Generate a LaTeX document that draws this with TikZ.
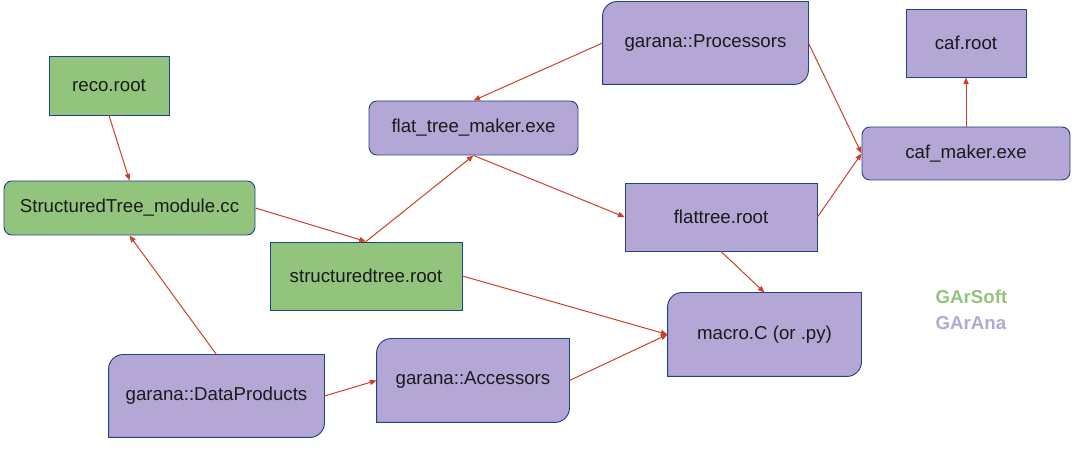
\documentclass[tikz,border=0pt]{standalone}
\usepackage{fontspec}
\setmainfont{Liberation Sans}
\usepackage{tikz}
\usetikzlibrary{arrows.meta,backgrounds}
\definecolor{GarGreen}{HTML}{93C47D}
\definecolor{GarPurple}{HTML}{B4A7D6}
\definecolor{GarEdge}{HTML}{1C4587}
\definecolor{GarArrow}{HTML}{CC4125}
\definecolor{GarText}{HTML}{1A1A1A}

% outline with the top-left and bottom-right corners rounded
\newcommand{\tabshape}[1]{%
  \draw[draw=GarEdge, fill=GarPurple, line width=0.7pt]
    (#1.north east) -- ([yshift=11pt]#1.south east)
    arc[start angle=0, end angle=-90, radius=11pt]
    -- (#1.south west) -- ([yshift=-11pt]#1.north west)
    arc[start angle=180, end angle=90, radius=11pt] -- cycle;}

\begin{document}
\begin{tikzpicture}[
  x=0.75pt, y=0.75pt,
  box/.style={draw=GarEdge, line width=0.7pt, align=center, inner sep=2pt, text=GarText, font=\fontsize{14}{16}\selectfont},
  soft/.style={box, fill=GarGreen},
  ana/.style={box, fill=GarPurple},
  anaround/.style={ana, rounded corners=6pt},
  softround/.style={soft, rounded corners=6pt},
  anatab/.style={box, draw=none},
  arrow/.style={-{Triangle[length=5pt,width=4pt]}, GarArrow, line width=0.75pt},
  legend/.style={anchor=west, font=\fontsize{14}{16}\selectfont\bfseries}
]
  \useasboundingbox (0,0) rectangle (1089,453);

  \node[anatab, minimum width=153.75pt, minimum height=61.5pt] (processors) at (705.5,410) {garana::Processors};
  \node[ana, minimum width=90pt, minimum height=51pt] (cafroot) at (966,410) {caf.root};
  \node[anaround, minimum width=156pt, minimum height=39.75pt] (cafmaker) at (966,299.5) {caf\_maker.exe};
  \node[soft, minimum width=90pt, minimum height=44.25pt] (reco) at (109,367.5) {reco.root};
  \node[anaround, minimum width=156.75pt, minimum height=40.5pt] (treemaker) at (473.5,325) {flat\_tree\_maker.exe};
  \node[softround, minimum width=188.25pt, minimum height=40.5pt] (module) at (129.5,245) {StructuredTree\_module.cc};
  \node[ana, minimum width=144pt, minimum height=51pt] (flattree) at (721,236) {flattree.root};
  \node[soft, minimum width=144pt, minimum height=51pt] (structtree) at (366,177) {structuredtree.root};
  \node[anatab, minimum width=144.75pt, minimum height=62.25pt] (macro) at (764.5,118.5) {macro.C (or .py)};
  \node[anatab, minimum width=161.25pt, minimum height=61.5pt] (products) at (216.5,57) {garana::DataProducts};
  \node[anatab, minimum width=144pt, minimum height=62.25pt] (accessors) at (473,72.5) {garana::Accessors};

  \begin{scope}[on background layer]
    \tabshape{processors}
    \tabshape{macro}
    \tabshape{products}
    \tabshape{accessors}
  \end{scope}

  \draw[arrow] (processors.west) -- (treemaker.north);
  \draw[arrow] (processors.east) -- (cafmaker.west);
  \draw[arrow] (cafmaker.north) -- (cafroot.south);
  \draw[arrow] (reco.south) -- (module.north);
  \draw[arrow] (module.east) -- (structtree.north);
  \draw[arrow] (structtree.north) -- (treemaker.south);
  \draw[arrow] (treemaker.south) -- (flattree.west);
  \draw[arrow] (flattree.east) -- (cafmaker.west);
  \draw[arrow] (flattree.south) -- (macro.north);
  \draw[arrow] (structtree.east) -- (macro.west);
  \draw[arrow] (products.north) -- (module.south);
  \draw[arrow] (products.east) -- (accessors.west);
  \draw[arrow] (accessors.east) -- (macro.west);

  \node[legend, text=GarGreen] (soft) at (931,156) {GArSoft};
  \node[legend, text=GarPurple] (ana) at (931,130) {GArAna};
\end{tikzpicture}
\end{document}
